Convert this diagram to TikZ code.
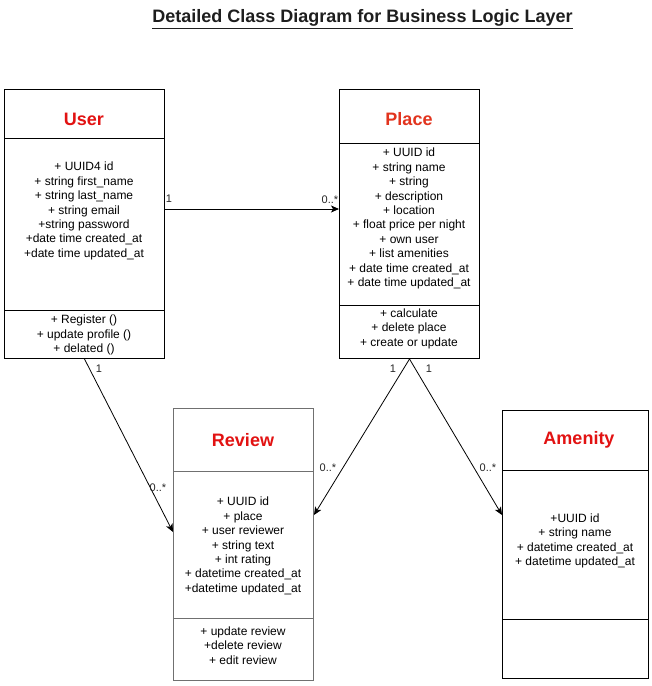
\documentclass[tikz,border=0pt]{standalone}
\usepackage{fontspec}
\setmainfont{Liberation Sans}
\usetikzlibrary{arrows.meta}
\definecolor{hdrred}{RGB}{226,18,18}
\definecolor{placered}{RGB}{226,52,30}
\definecolor{revgray}{RGB}{112,112,112}
\definecolor{titlecol}{RGB}{30,30,30}
\begin{document}
\begin{tikzpicture}[x=1pt,y=-1pt,
  classbox/.style={draw=black, line width=1pt, anchor=north west, inner sep=0pt},
  divider/.style={line width=1pt},
  hdr/.style={font=\fontsize{18}{21.6}\selectfont\bfseries, text=hdrred, inner sep=0pt},
  txt/.style={font=\fontsize{12}{14.4}\selectfont, align=center, inner sep=0pt},
  mult/.style={font=\fontsize{11}{13}\selectfont, inner sep=0pt, text=black!85},
  assoc/.style={line width=0.8pt, -{Stealth[length=8pt,width=7pt,inset=2pt]}}
]
\useasboundingbox[fill=white] (0,0) rectangle (652,686);

% title
\node[font=\fontsize{18}{21.6}\selectfont\bfseries, text=titlecol, inner sep=0pt] (title) at (362.5,19)
  {\underline{Detailed Class Diagram for Business Logic Layer}};

% ---- User ----
\node[classbox, minimum width=160pt, minimum height=269pt] (user) at (4,89) {};
\draw[divider] ([yshift=-49pt]user.north west) -- ([yshift=-49pt]user.north east);
\draw[divider] ([yshift=-221pt]user.north west) -- ([yshift=-221pt]user.north east);
\node[hdr] (userhdr) at (84,119) {User};
\node[txt] (userattr) at (84,211) {+ UUID4 id\\+ string first\_name\\+ string last\_name\\+ string email\\+string password\\+date time created\_at\\+date time updated\_at};
\node[txt] (usermeth) at (84,335) {+ Register ()\\+ update profile ()\\+ delated ()};

% ---- Place ----
\node[classbox, minimum width=140pt, minimum height=269pt] (place) at (339,89) {};
\draw[divider] ([yshift=-54pt]place.north west) -- ([yshift=-54pt]place.north east);
\draw[divider] ([yshift=-216pt]place.north west) -- ([yshift=-216pt]place.north east);
\node[hdr, text=placered] (placehdr) at (409,119) {Place};
\node[txt] (placeattr) at (409,218.5) {+ UUID id\\+ string name\\+ string\\+ description\\+ location\\+ float price per night\\+ own user\\+ list amenities\\+ date time created\_at\\+ date time updated\_at};
\node[txt] (placemeth) at (409,328.5) {+ calculate\\+ delete place\\+ create or update};

% ---- Review ----
\node[classbox, draw=revgray, minimum width=140pt, minimum height=272pt] (review) at (173,408) {};
\draw[divider, revgray] ([yshift=-63pt]review.north west) -- ([yshift=-63pt]review.north east);
\draw[divider, revgray] ([yshift=-210pt]review.north west) -- ([yshift=-210pt]review.north east);
\node[hdr] (reviewhdr) at (243,440) {Review};
\node[txt] (reviewattr) at (243,546) {+ UUID id\\+ place\\+ user reviewer\\+ string text\\+ int rating\\+ datetime created\_at\\+datetime updated\_at};
\node[txt] (reviewmeth) at (243,645.5) {+ update review\\+delete review\\+ edit review};

% ---- Amenity ----
\node[classbox, minimum width=146pt, minimum height=268pt] (amenity) at (502,410) {};
\draw[divider] ([yshift=-60pt]amenity.north west) -- ([yshift=-60pt]amenity.north east);
\draw[divider] ([yshift=-209pt]amenity.north west) -- ([yshift=-209pt]amenity.north east);
\node[hdr] (amenityhdr) at (579,440) {Amenity};
\node[txt] (amenityattr) at (575,541) {+UUID id\\+ string name\\+ datetime created\_at\\+ datetime updated\_at};

% ---- associations ----
\draw[assoc] ([yshift=-120pt]user.north east) -- ([yshift=-120pt]place.north west);
\draw[assoc] (user.south) -- ([yshift=-124pt]review.north west);
\draw[assoc] (place.south) -- ([yshift=-107pt]review.north east);
\draw[assoc] (place.south) -- ([yshift=-105pt]amenity.north west);

% multiplicities
\node[mult] (m1) at (169,199) {1};
\node[mult] (m2) at (330,200) {0..*};
\node[mult] (m3) at (99,369) {1};
\node[mult] (m4) at (158,488) {0..*};
\node[mult] (m5) at (393,369) {1};
\node[mult] (m6) at (429,369) {1};
\node[mult] (m7) at (328,468) {0..*};
\node[mult] (m8) at (488,468) {0..*};
\end{tikzpicture}
\end{document}
